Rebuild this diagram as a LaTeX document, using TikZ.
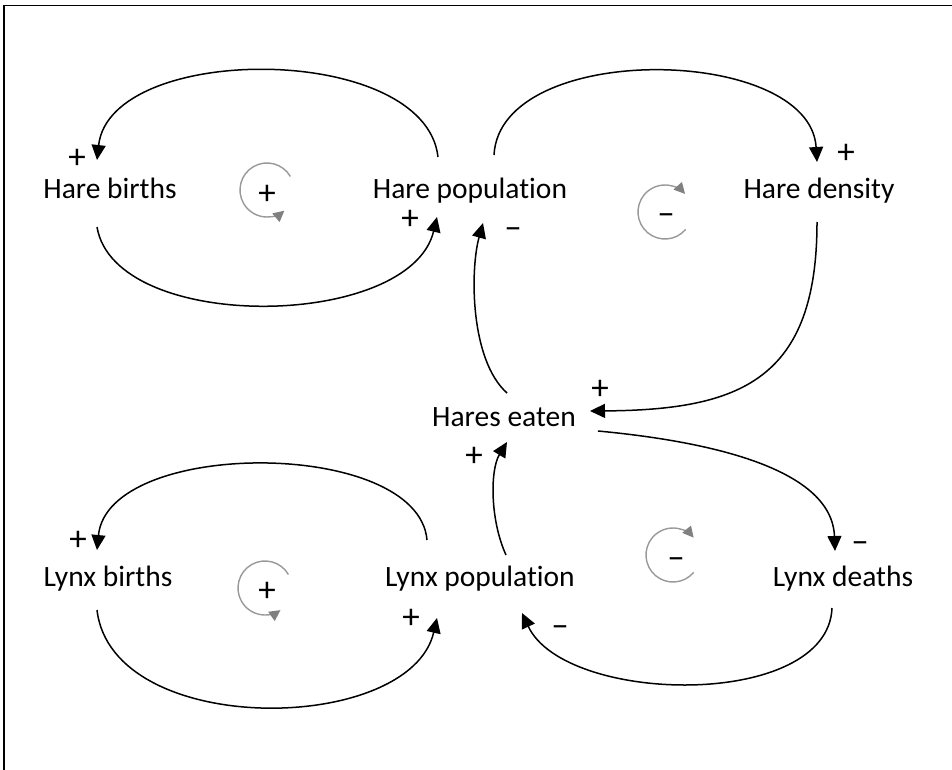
\documentclass[tikz,border=0pt]{standalone}
\usepackage{fontspec}
\setmainfont{Carlito}[Ligatures={TeX,NoCommon}]
\usetikzlibrary{arrows.meta,calc}
\tikzset{
	var/.style={font=\fontsize{29.5}{35}\selectfont,inner sep=0pt,text height=22pt,text depth=3pt},
	sign/.style={font=\fontsize{35}{40}\selectfont,inner sep=0pt,text height=23pt,text depth=0pt},
	link/.style={line width=1.5pt,-{Triangle[length=15pt,width=14pt]}},
	loopsym/.style={gray!80,line width=1.4pt,-{Triangle[length=11pt,width=11pt,fill=gray,color=gray]}},
}
\begin{document}
\begin{tikzpicture}[x=1pt,y=-1pt]
		\useasboundingbox (0,0) rectangle (952,770);
		\draw[line width=1.5pt] (4,770) -- (4,5.5) -- (952,5.5);
		% variables
		\node[var] (hb) at (110,189) {Hare births};
		\node[var] (hp) at (470,189) {Hare population};
		\node[var] (hd) at (819,189) {Hare density};
		\node[var] (he) at (504,417) {Hares eaten};
		\node[var] (lb) at (108,577) {Lynx births};
		\node[var] (lp) at (480,577) {Lynx population};
		\node[var] (ld) at (843,577) {Lynx deaths};
		% links
		\draw[link] ($(hp)+(-32,-32)$) .. controls (425,42) and (110,42) .. ($(hb)+(-13,-29)$);
		\draw[link] ($(hb)+(-13,38)$) .. controls (115,334) and (410,330) .. ($(hp)+(-33,28)$);
		\draw[link] ($(hp)+(24,-34)$) .. controls (500,40) and (810,45) .. ($(hd)+(-2,-27)$);
		\draw[link] ($(hd)+(-2,33)$) .. controls (817,380) and (740,410) .. ($(he)+(86,-6)$);
		\draw[link] ($(he)+(3,-24)$) .. controls (470,360) and (470,270) .. ($(hp)+(13,34)$);
		\draw[link] ($(lp)+(26,-22)$) .. controls (490,520) and (490,470) .. ($(he)+(3,25)$);
		\draw[link] ($(he)+(94,14)$) .. controls (715,442) and (832,470) .. ($(ld)+(-8,-26)$);
		\draw[link] ($(ld)+(-11,31)$) .. controls (828,710) and (565,705) .. ($(lp)+(42,36)$);
		\draw[link] ($(lp)+(-53,-37)$) .. controls (418,438) and (108,438) .. ($(lb)+(-11,-27)$);
		\draw[link] ($(lb)+(-11,33)$) .. controls (112,739) and (410,735) .. ($(lp)+(-43,41)$);
		% link polarities
		\node[sign] (s1) at (77,157) {+};
		\node[sign] (s2) at (410,218) {+};
		\node[sign] (s3) at (513,227) {--};
		\node[sign] (s4) at (846,152) {+};
		\node[sign] (s5) at (600,388) {+};
		\node[sign] (s6) at (474,455) {+};
		\node[sign] (s7) at (860,541) {--};
		\node[sign] (s8) at (560,625) {--};
		\node[sign] (s9) at (78,539) {+};
		\node[sign] (s10) at (411,617) {+};
		% loop markers
		\node[sign] (r1) at (267,193) {+};
		\node[sign] (r2) at (666,213) {--};
		\node[sign] (r3) at (267,590) {+};
		\node[sign] (r4) at (676,557) {--};
		\draw[loopsym] (267,190) ++(-30:27) arc[start angle=-30,end angle=-310,radius=27];
		\draw[loopsym] (665,212) ++(40:27) arc[start angle=40,end angle=318,radius=27];
		\draw[loopsym] (265,588) ++(-30:27) arc[start angle=-30,end angle=-305,radius=27];
		\draw[loopsym] (673,555) ++(40:27) arc[start angle=40,end angle=320,radius=27];
	\end{tikzpicture}
\end{document}
